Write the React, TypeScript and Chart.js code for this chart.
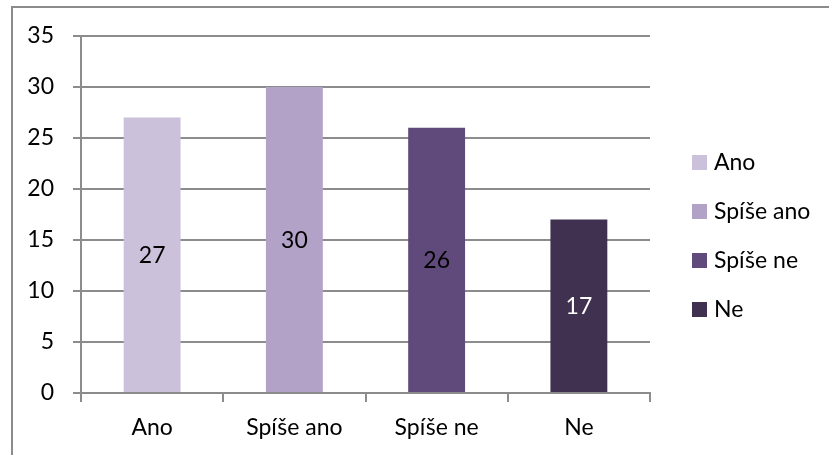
import React, { useEffect, useRef } from "react";
import { Chart, registerables } from "chart.js";

Chart.register(...registerables);

const categories = ["Ano", "Spíše ano", "Spíše ne", "Ne"];
const values = [27, 30, 26, 17];
const barColors = ["#CCC1DA", "#B3A2C7", "#604A7B", "#403151"];
const labelColors = ["#000000", "#000000", "#000000", "#FFFFFF"];
const yTicks = [0, 5, 10, 15, 20, 25, 30, 35];

const FONT = "Lato, 'Open Sans', sans-serif";
const FS = 23;

const frame = {
  id: "frame",
  beforeDraw(chart: any) {
    const ctx = chart.ctx;
    ctx.save();
    ctx.fillStyle = "#FFFFFF";
    ctx.fillRect(0, 0, chart.width, chart.height);
    ctx.fillStyle = "#8C8C8C";
    ctx.fillRect(11, 6, chart.width - 11, 2);
    ctx.fillRect(11, 6, 2, chart.height - 6);
    ctx.restore();
  },
};

const valueLabels = {
  id: "valueLabels",
  afterDatasetsDraw(chart: any) {
    const ctx = chart.ctx;
    const meta = chart.getDatasetMeta(0);
    ctx.save();
    ctx.font = `${FS}px ${FONT}`;
    ctx.textAlign = "center";
    ctx.textBaseline = "middle";
    meta.data.forEach((bar: any, i: number) => {
      ctx.fillStyle = labelColors[i];
      ctx.fillText(String(values[i]), bar.x, (bar.y + bar.base) / 2 + 1);
    });
    ctx.restore();
  },
};

const sideLegend = {
  id: "sideLegend",
  afterDraw(chart: any) {
    const ctx = chart.ctx;
    const x0 = 692;
    const y0 = 162;
    const step = 49;
    ctx.save();
    ctx.font = `${FS}px ${FONT}`;
    ctx.textAlign = "left";
    ctx.textBaseline = "middle";
    chart.data.labels.forEach((lab: string, i: number) => {
      const cy = y0 + i * step;
      ctx.fillStyle = barColors[i];
      ctx.fillRect(x0, cy - 7, 15, 15);
      ctx.fillStyle = "#000000";
      ctx.fillText(lab, x0 + 22, cy + 1);
    });
    ctx.restore();
  },
};

export default function App() {
  const ref = useRef<HTMLCanvasElement | null>(null);
  useEffect(() => {
    document.body.style.margin = "0";
    if (!ref.current) return;
    const chart = new Chart(ref.current, {
      type: "bar",
      data: {
        labels: categories,
        datasets: [
          {
            data: values,
            backgroundColor: barColors,
            borderWidth: 0,
            categoryPercentage: 1,
            barPercentage: 0.4,
          },
        ],
      },
      options: {
        responsive: false,
        animation: false,
        layout: { padding: { top: 36, right: 179, left: 0, bottom: 0 } },
        plugins: {
          legend: { display: false },
          tooltip: { enabled: false },
        },
        scales: {
          x: {
            offset: true,
            grid: {
              offset: true,
              drawOnChartArea: false,
              color: "#8C8C8C",
              lineWidth: 2,
              tickLength: 9,
            },
            border: { color: "#8C8C8C", width: 2 },
            ticks: {
              color: "#000000",
              font: { family: FONT, size: FS },
              padding: 12,
              maxRotation: 0,
            },
            afterFit(scale: any) {
              scale.height = 62;
            },
          },
          y: {
            min: 0,
            max: 35,
            afterBuildTicks(scale: any) {
              scale.ticks = yTicks.map((v) => ({ value: v }));
            },
            grid: {
              color: "#8C8C8C",
              lineWidth: 2,
              tickLength: 8,
            },
            border: { color: "#8C8C8C", width: 2 },
            ticks: {
              color: "#000000",
              font: { family: FONT, size: FS },
              padding: 19,
            },
            afterFit(scale: any) {
              scale.width = 81;
            },
          },
        },
      },
      plugins: [frame, valueLabels, sideLegend],
    });
    return () => chart.destroy();
  }, []);
  return (
    <div style={{ width: 829, height: 455 }}>
      <canvas ref={ref} width={829} height={455} style={{ display: "block" }} />
    </div>
  );
}
